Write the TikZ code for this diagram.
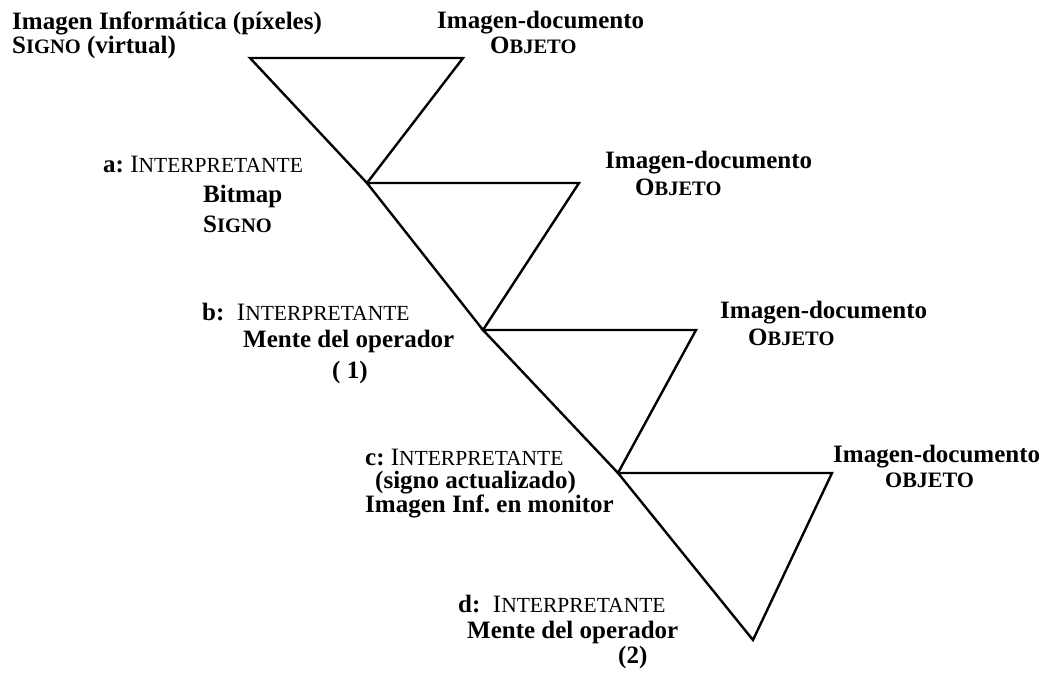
\documentclass[tikz,border=0pt]{standalone}
\usepackage{fontspec}
\setmainfont{Liberation Serif}
\frenchspacing
\newcommand\bigsz{\fontsize{25}{26}\selectfont}
\newcommand\scsz{\fontsize{20.5}{22}\selectfont}
\newcommand\scisz{\fontsize{21.5}{22}\selectfont}
\newcommand\scb[2]{#1{\scsz #2}}
\newcommand\interp{{\mdseries I{\scisz NTERPRETANTE}}}
\begin{document}
\begin{tikzpicture}[x=1pt,y=-1pt,
  lbl/.style={anchor=base west, inner sep=0pt, font=\bigsz\bfseries},
  edge/.style={line width=2.4pt, line join=miter, line cap=round}]
\useasboundingbox (0,0) rectangle (1050,675);
% junction points
\coordinate (t1l) at (250,58);
\coordinate (t1r) at (463,58);
\coordinate (j1) at (367,183);
\coordinate (t2r) at (579,183);
\coordinate (j2) at (483,330);
\coordinate (t3r) at (696,330);
\coordinate (j3) at (618,473);
\coordinate (t4r) at (832,473);
\coordinate (j4) at (753,640);
% triangles
\draw[edge] (t1l) -- (t1r) -- (j1) -- cycle;
\draw[edge] (j1) -- (t2r) -- (j2) -- cycle;
\draw[edge] (j2) -- (t3r) -- (j3) -- cycle;
\draw[edge] (j3) -- (t4r) -- (j4) -- cycle;
% sign labels
\node[lbl] (s1) at (12,29) {Imagen Informática (píxeles)};
\node[lbl] (s2) at (12,53) {\scb{S}{IGNO} (virtual)};
% object labels
\node[lbl] (o1a) at (437,28) {Imagen-documento};
\node[lbl] (o1b) at (490,53) {\scb{O}{BJETO}};
\node[lbl] (o2a) at (605,168) {Imagen-documento};
\node[lbl] (o2b) at (635,195) {\scb{O}{BJETO}};
\node[lbl] (o3a) at (720,318) {Imagen-documento};
\node[lbl] (o3b) at (748,345) {\scb{O}{BJETO}};
\node[lbl] (o4a) at (833,462) {Imagen-documento};
\node[lbl] (o4b) at (885,487) {{\fontsize{22}{22}\selectfont OBJETO}};
% interpretant labels
\node[lbl] (a1) at (103,172) {a: \interp};
\node[lbl] (a2) at (203,202) {Bitmap};
\node[lbl] (a3) at (203,232) {\scb{S}{IGNO}};
\node[lbl] (b1) at (202,320) {b:\ \ \interp};
\node[lbl] (b2) at (243,347) {Mente del operador};
\node[lbl] (b3) at (332,378) {( 1)};
\node[lbl] (c1) at (365,465) {c: \interp};
\node[lbl] (c2) at (375,488) {(signo actualizado)};
\node[lbl] (c3) at (365,512) {Imagen Inf. en monitor};
\node[lbl] (d1) at (458,612) {d:\ \ \interp};
\node[lbl] (d2) at (467,638) {Mente del operador};
\node[lbl] (d3) at (618,663) {(2)};
\end{tikzpicture}
\end{document}
